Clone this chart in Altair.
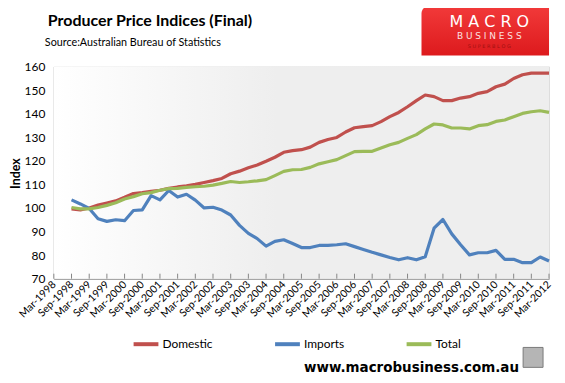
import altair as alt
import pandas as pd

# Quarterly categories Mar-1998 .. Mar-2012
months = ["Mar", "Jun", "Sep", "Dec"]
quarters = [f"{m}-{y}" for y in range(1998, 2013) for m in months][:57]
tick_labels = quarters[::2]  # Mar / Sep labels shown on the axis

# Data begins Sep-1998
data_quarters = quarters[2:]

domestic = [99.6, 99.2, 100.0, 101.2, 102.1, 103.0, 104.5, 106.1, 106.5,
            107.0, 107.5, 108.3, 108.9, 109.4, 110.0, 110.8, 111.6, 112.5, 114.5,
            115.6, 117.0, 118.2, 119.8, 121.5, 123.6, 124.3, 124.7, 125.8, 127.8,
            129.0, 129.9, 132.2, 134.0, 134.5, 134.9, 136.6, 138.7, 140.5, 142.9,
            145.5, 147.9, 147.2, 145.5, 145.5, 146.6, 147.2, 148.6, 149.3, 151.4,
            152.5, 154.9, 156.5, 157.2, 157.2, 157.2]

imports = [103.4, 101.7, 99.8, 95.4, 94.3, 95.0, 94.6, 98.9, 99.2,
           105.2, 103.4, 107.4, 104.6, 105.8, 103.3, 100.0, 100.3, 99.1, 97.0,
           92.6, 89.2, 87.0, 83.8, 85.8, 86.5, 84.9, 83.2, 83.2, 84.1,
           84.1, 84.4, 84.8, 83.6, 82.4, 81.2, 80.1, 79.0, 78.0, 78.9,
           78.0, 79.3, 91.4, 95.1, 89.0, 84.4, 80.1, 81.0, 81.0, 82.0,
           78.2, 78.2, 76.8, 76.8, 79.2, 77.5]

total = [100.2, 99.6, 99.6, 100.2, 101.1, 102.2, 103.8, 104.8, 106.0,
         106.5, 107.5, 108.2, 108.3, 108.7, 109.0, 109.2, 109.7, 110.4, 111.2,
         110.8, 111.1, 111.5, 112.0, 113.7, 115.5, 116.2, 116.3, 117.2, 118.7,
         119.6, 120.5, 122.2, 123.9, 124.0, 124.0, 125.4, 126.8, 127.8, 129.5,
         131.1, 133.5, 135.6, 135.2, 133.9, 133.9, 133.5, 134.9, 135.3, 136.7,
         137.3, 138.7, 140.1, 140.8, 141.2, 140.5]

series_names = ["Domestic", "Imports", "Total"]
series_colors = ["#c0504d", "#4f81bd", "#9bbb59"]
y_ticks = [70, 80, 90, 100, 110, 120, 130, 140, 150, 160]

rows = []
for name, vals in zip(series_names, [domestic, imports, total]):
    for q, v in zip(data_quarters, vals):
        rows.append({"Quarter": q, "Series": name, "Index": v})
df = pd.DataFrame(rows)

W, H = 497, 213
FONT = "Lato"
one = pd.DataFrame({"a": [0]})

x_scale = alt.Scale(type="point", domain=quarters, padding=0)
y_scale = alt.Scale(domain=[70, 160], nice=False, zero=False)

bg = alt.Chart(one).mark_rect(
    fill=alt.Gradient(
        gradient="linear",
        stops=[alt.GradientStop(color="#ffffff", offset=0),
               alt.GradientStop(color="#eeeeee", offset=0.45),
               alt.GradientStop(color="#eeeeee", offset=1)],
        x1=0, x2=1, y1=0, y2=0),
).encode(x=alt.value(0), x2=alt.value(W), y=alt.value(0), y2=alt.value(H))

lines = alt.Chart(df).mark_line(strokeWidth=3.2, strokeJoin="round").encode(
    x=alt.X("Quarter:N", sort=quarters, scale=x_scale,
            axis=alt.Axis(values=tick_labels, title=None, labelAngle=-45,
                          labelAlign="right", labelBaseline="middle",
                          labelFont=FONT, labelFontSize=10.5, labelColor="#000000",
                          labelPadding=4, ticks=False,
                          domainColor="#868686", domainWidth=1)),
    y=alt.Y("Index:Q", scale=y_scale,
            axis=alt.Axis(values=y_ticks, title="Index", grid=False, ticks=False,
                          labelFont=FONT, labelFontSize=12, labelColor="#000000",
                          labelPadding=9, titleFont=FONT, titleFontSize=12.5,
                          titleFontWeight="bold", titleColor="#000000",
                          titleAngle=270, titleX=-38, titleY=107,
                          titleAlign="center", titleBaseline="middle",
                          domainColor="#868686", domainWidth=1)),
    color=alt.Color("Series:N", sort=series_names,
                    scale=alt.Scale(domain=series_names, range=series_colors),
                    legend=alt.Legend(title=None, orient="none", direction="horizontal",
                                      legendX=78, legendY=264, symbolType="stroke",
                                      symbolSize=620, symbolStrokeWidth=4,
                                      labelFont=FONT, labelFontSize=12,
                                      labelColor="#000000", labelOffset=2,
                                      columnPadding=54)),
    order=alt.Order("Series:N"),
)

ticks_df = pd.DataFrame({"Quarter": tick_labels})
xticks = alt.Chart(ticks_df).mark_rule(color="#868686", strokeWidth=1).encode(
    x=alt.X("Quarter:N", sort=quarters, scale=x_scale),
    y=alt.value(H - 5), y2=alt.value(H),
)

title = alt.Chart(one).mark_text(
    text="Producer Price Indices (Final)", font=FONT, fontSize=16, fontWeight="bold",
    align="left", baseline="middle", color="#000000"
).encode(x=alt.value(-6), y=alt.value(-46))

subtitle = alt.Chart(one).mark_text(
    text="Source:Australian Bureau of Statistics", font=FONT, fontSize=10.8,
    align="left", baseline="middle", color="#000000"
).encode(x=alt.value(-9), y=alt.value(-24))

logo_box = alt.Chart(one).mark_rect(
    fill=alt.Gradient(
        gradient="linear",
        stops=[alt.GradientStop(color="#f23a3a", offset=0),
               alt.GradientStop(color="#dd1a1d", offset=1)],
        x1=0, x2=0, y1=0, y2=1),
    cornerRadiusTopLeft=8,
).encode(x=alt.value(369), x2=alt.value(497), y=alt.value(-61), y2=alt.value(-11))

logo_t1 = alt.Chart(one).mark_text(
    text="M A C R O", font="DejaVu Sans", fontSize=16, color="#ffffff",
    align="center", baseline="middle"
).encode(x=alt.value(437), y=alt.value(-45))
logo_t2 = alt.Chart(one).mark_text(
    text="B U S I N E S S", font="DejaVu Sans", fontSize=9, color="#fbe0e0",
    align="center", baseline="middle"
).encode(x=alt.value(437), y=alt.value(-31))
logo_t3 = alt.Chart(one).mark_text(
    text="S  U  P  E  R  B  L  O  G", font="DejaVu Sans", fontSize=5, color="#a01010",
    align="center", baseline="middle"
).encode(x=alt.value(437), y=alt.value(-21))

site = alt.Chart(one).mark_text(
    text="www.macrobusiness.com.au", font="DejaVu Sans", fontSize=13.5,
    fontWeight="bold", color="#000000", align="center", baseline="middle"
).encode(x=alt.value(359), y=alt.value(303))

wolf = alt.Chart(one).mark_rect(
    fill="#b5b5b5", stroke="#7a7a7a", strokeWidth=1
).encode(x=alt.value(471), x2=alt.value(491), y=alt.value(282), y2=alt.value(302))

chart = alt.layer(
    bg, xticks, lines, title, subtitle, logo_box, logo_t1, logo_t2, logo_t3, site, wolf
).properties(
    width=W, height=H,
    autosize=alt.AutoSizeParams(type="none"),
    padding={"left": 46, "top": 58, "right": 8, "bottom": 96},
).configure_view(stroke=None).configure(background="#ffffff")

chart.save("out.html", embed_options={"renderer": "svg", "actions": False})
